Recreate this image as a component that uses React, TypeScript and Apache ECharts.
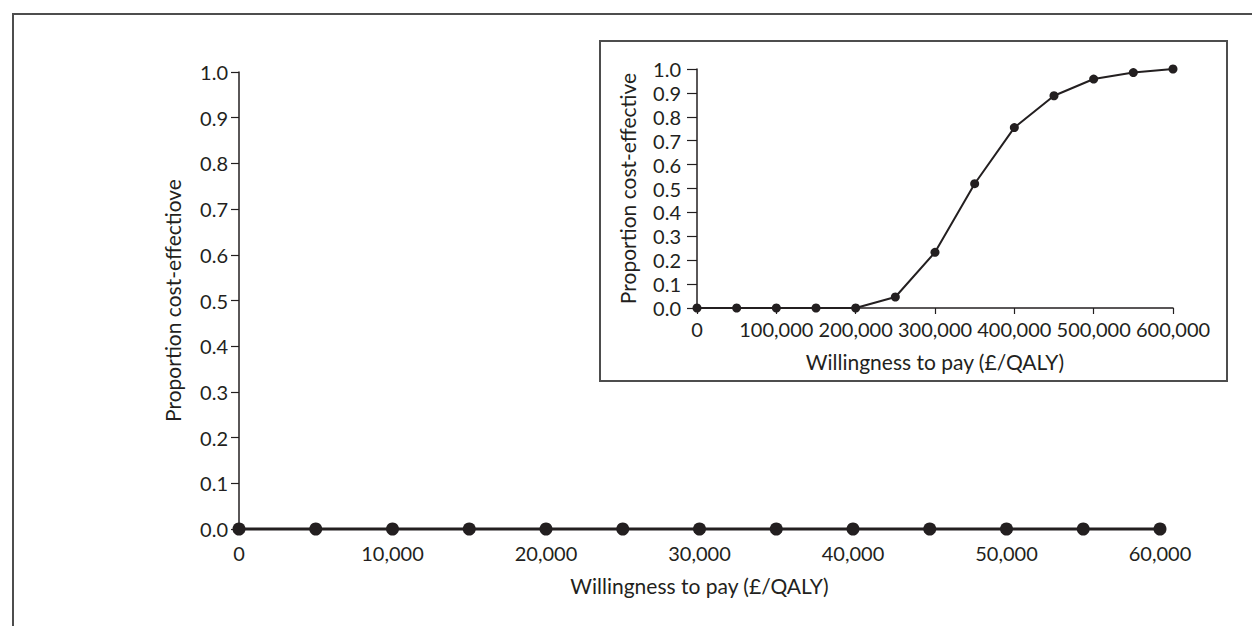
import React, { useEffect, useRef } from "react";
import * as echarts from "echarts";

const mainX = [0, 5000, 10000, 15000, 20000, 25000, 30000, 35000, 40000, 45000, 50000, 55000, 60000];
const mainY = [0, 0, 0, 0, 0, 0, 0, 0, 0, 0, 0, 0, 0];
const insetX = [0, 50000, 100000, 150000, 200000, 250000, 300000, 350000, 400000, 450000, 500000, 550000, 600000];
const insetY = [0, 0, 0, 0, 0, 0.046, 0.233, 0.52, 0.755, 0.888, 0.958, 0.985, 1.0];

const mainYTitle = "Proportion cost-effectiove";
const insetYTitle = "Proportion cost-effective";
const xTitle = "Willingness to pay (£/QALY)";

const INK = "#231f20";
const FONT = "Lato, 'Open Sans', sans-serif";

const fmtNum = (v: number) => v.toLocaleString("en-US");
const fmtDec = (v: number) => v.toFixed(1);

export default function App() {
  const ref = useRef<HTMLDivElement>(null);
  useEffect(() => {
    if (!ref.current) return;
    const chart = echarts.init(ref.current, undefined, { renderer: "svg" });
    const axisText = { color: INK, fontFamily: FONT, fontSize: 20 };
    const nameText = { color: INK, fontFamily: FONT, fontSize: 21 };
    chart.setOption({
      animation: false,
      backgroundColor: "#ffffff",
      graphic: [
        {
          type: "rect",
          z: 0,
          shape: { x: 13, y: 14, width: 1400, height: 800 },
          style: { fill: "none", stroke: "#4d4d4d", lineWidth: 2 },
        },
        {
          type: "rect",
          z: 0,
          shape: { x: 600, y: 41, width: 627, height: 340 },
          style: { fill: "none", stroke: "#4d4d4d", lineWidth: 2 },
        },
      ],
      grid: [
        { left: 239, top: 72, width: 921, height: 457, containLabel: false },
        { left: 697, top: 69, width: 476, height: 239, containLabel: false },
      ],
      xAxis: [
        {
          type: "value",
          gridIndex: 0,
          min: 0,
          max: 60000,
          interval: 10000,
          name: xTitle,
          nameLocation: "middle",
          nameGap: 46,
          nameTextStyle: nameText,
          axisLine: { show: true, lineStyle: { color: INK, width: 2 } },
          axisTick: { show: true, length: 6, lineStyle: { color: INK, width: 1.5 } },
          axisLabel: { ...axisText, margin: 14, formatter: fmtNum },
          splitLine: { show: false },
        },
        {
          type: "value",
          gridIndex: 1,
          min: 0,
          max: 600000,
          interval: 100000,
          name: xTitle,
          nameLocation: "middle",
          nameGap: 43,
          nameTextStyle: nameText,
          axisLine: { show: true, lineStyle: { color: INK, width: 1.5 } },
          axisTick: { show: true, length: 6, lineStyle: { color: INK, width: 1.2 } },
          axisLabel: { ...axisText, margin: 11, formatter: fmtNum },
          splitLine: { show: false },
        },
      ],
      yAxis: [
        {
          type: "value",
          gridIndex: 0,
          min: 0,
          max: 1,
          interval: 0.1,
          name: mainYTitle,
          nameLocation: "middle",
          nameGap: 56,
          nameTextStyle: nameText,
          axisLine: { show: true, lineStyle: { color: INK, width: 1.5 } },
          axisTick: { show: true, length: 8, lineStyle: { color: INK, width: 1.2 } },
          axisLabel: { ...axisText, margin: 11, formatter: fmtDec },
          splitLine: { show: false },
        },
        {
          type: "value",
          gridIndex: 1,
          min: 0,
          max: 1,
          interval: 0.1,
          name: insetYTitle,
          nameLocation: "middle",
          nameGap: 59,
          nameTextStyle: nameText,
          axisLine: { show: true, lineStyle: { color: INK, width: 1.5 } },
          axisTick: { show: true, length: 10, lineStyle: { color: INK, width: 1.2 } },
          axisLabel: { ...axisText, margin: 16, formatter: fmtDec },
          splitLine: { show: false },
        },
      ],
      series: [
        {
          type: "line",
          xAxisIndex: 0,
          yAxisIndex: 0,
          data: mainX.map((x, i) => [x, mainY[i]]),
          symbol: "circle",
          symbolSize: 13,
          lineStyle: { color: INK, width: 3 },
          itemStyle: { color: INK },
          clip: false,
          z: 5,
        },
        {
          type: "line",
          xAxisIndex: 1,
          yAxisIndex: 1,
          data: insetX.map((x, i) => [x, insetY[i]]),
          symbol: "circle",
          symbolSize: 9,
          lineStyle: { color: INK, width: 2 },
          itemStyle: { color: INK },
          clip: false,
          z: 5,
        },
      ],
    });
    return () => chart.dispose();
  }, []);
  return (
    <div
      ref={ref}
      style={{ position: "fixed", left: 0, top: 0, width: 1252, height: 626 }}
    />
  );
}
